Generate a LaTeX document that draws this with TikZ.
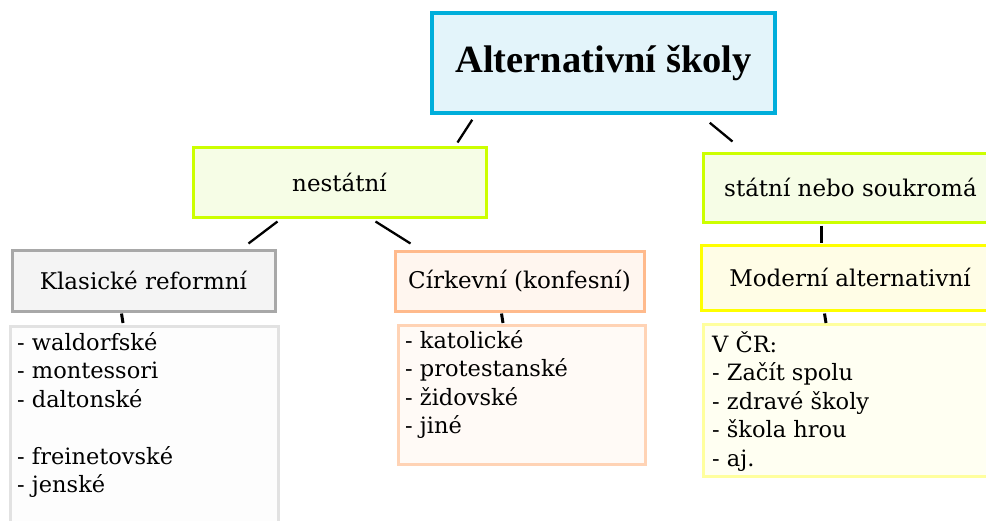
\documentclass[tikz,border=0pt]{standalone}
\usepackage{fontspec}
\setmainfont{DejaVu Serif}
\newfontfamily\titlefont{Liberation Serif}
\definecolor{titleB}{HTML}{00AEDB}
\definecolor{titleF}{HTML}{E3F4FA}
\definecolor{limeB}{HTML}{CCFF00}
\definecolor{limeF}{HTML}{F6FDE6}
\definecolor{grayB}{HTML}{A8A8A8}
\definecolor{grayF}{HTML}{F4F4F4}
\definecolor{lgrayB}{HTML}{E2E2E2}
\definecolor{lgrayF}{HTML}{FDFDFD}
\definecolor{peachB}{HTML}{FFBA8C}
\definecolor{peachF}{HTML}{FFF6EF}
\definecolor{lpeachB}{HTML}{FFD3B5}
\definecolor{lpeachF}{HTML}{FFFAF6}
\definecolor{yelB}{HTML}{FFFF00}
\definecolor{yelF}{HTML}{FFFDE6}
\definecolor{lyelB}{HTML}{FFFF9E}
\definecolor{lyelF}{HTML}{FFFFF2}
\tikzset{
  box/.style={draw, rectangle, line width=3pt, inner sep=0pt, font=\fontsize{23}{27}\selectfont},
  listtext/.style={inner sep=0pt, anchor=base west, font=\fontsize{22.5}{27}\selectfont},
  conn/.style={draw=black, line width=2.3pt},
}
\newcommand{\listlines}[1]{\parbox[t]{270pt}{\baselineskip=28.5pt #1}}
\begin{document}
\begin{tikzpicture}[x=1pt,y=-1pt]
\useasboundingbox (0,0) rectangle (986,520);
\clip (0,0) rectangle (986,520);
% boxes
\node[box, draw=titleB, fill=titleF, line width=3.5pt, minimum width=343pt, minimum height=100pt,
      font=\titlefont\bfseries\fontsize{38.5}{44}\selectfont] (title) at (603.5,63) {Alternativní školy};
\node[box, draw=limeB, fill=limeF, minimum width=293pt, minimum height=70pt] (nes) at (339.5,182) {nestátní};
\node[box, draw=limeB, fill=limeF, minimum width=295pt, minimum height=69pt] (sta) at (850.5,187.5) {státní nebo soukromá};
\node[box, draw=grayB, fill=grayF, minimum width=263pt, minimum height=61pt] (kla) at (143.5,280.5) {Klasické reformní};
\node[box, draw=peachB, fill=peachF, minimum width=249pt, minimum height=60pt] (cir) at (519.5,281) {Církevní (konfesní)};
\node[box, draw=yelB, fill=yelF, minimum width=298pt, minimum height=65pt] (mod) at (850,277.5) {Moderní alternativní};
\node[box, draw=lgrayB, fill=lgrayF, minimum width=268pt, minimum height=210pt, anchor=north west] (l1) at (9,325) {};
\node[box, draw=lpeachB, fill=lpeachF, minimum width=247pt, minimum height=139pt, anchor=north west] (l2) at (397,324) {};
\node[box, draw=lyelB, fill=lyelF, minimum width=300pt, minimum height=152pt, anchor=north west] (l3) at (702,323) {};
% list texts
\node[listtext] (l1t) at (17,350) {\listlines{- waldorfské\\- montessori\\- daltonské\\\mbox{}\\- freinetovské\\- jenské}};
\node[listtext] (l2t) at (405,348) {\listlines{- katolické\\- protestanské\\- židovské\\- jiné}};
\node[listtext] (l3t) at (712,352) {\listlines{V ČR:\\- Začít spolu\\- zdravé školy\\- škola hrou\\- aj.}};
% connectors
\draw[conn] ([shift={(42,5)}]title.south west) -- ([shift={(266,-3)}]nes.north west);
\draw[conn] ([shift={(-67,8)}]title.south east) -- ([shift={(31,-10)}]sta.north west);
\draw[conn] ([shift={(86,3)}]nes.south west) -- ([shift={(238,-5)}]kla.north west);
\draw[conn] ([shift={(184,3)}]nes.south west) -- ([shift={(17,-6)}]cir.north west);
\draw[conn, line width=3pt] ([shift={(120,2)}]sta.south west) -- ([shift={(122,-1)}]mod.north west);
\draw[conn, line width=3pt] ([shift={(111,1)}]kla.south west) -- ([shift={(114,-2)}]l1.north west);
\draw[conn, line width=3pt] ([shift={(108,1)}]cir.south west) -- ([shift={(106,-1)}]l2.north west);
\draw[conn, line width=3pt] ([shift={(125,2)}]mod.south west) -- ([shift={(124,0)}]l3.north west);
\end{tikzpicture}
\end{document}
